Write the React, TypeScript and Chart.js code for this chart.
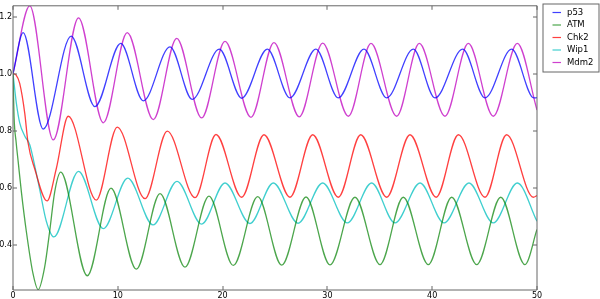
import React, { useEffect, useRef } from "react";
import { Chart, registerables } from "chart.js";

Chart.register(...registerables);

// ---- data ----
const xTicks = [0, 10, 20, 30, 40, 50];
const yTicks = [0.4, 0.6, 0.8, 1.0, 1.2];
const xMin = 0;
const xMax = 50;
const yMin = 0.242;
const yMax = 1.238;

const seriesNames = ["p53", "ATM", "Chk2", "Wip1", "Mdm2"];
const seriesColors = [
  "rgba(0,0,255,0.75)",
  "rgba(0,128,0,0.7)",
  "rgba(255,0,0,0.75)",
  "rgba(0,191,191,0.75)",
  "rgba(191,0,191,0.75)",
];

const p53X = [0, 0.97, 2.88, 5.55, 7.82, 10.28, 12.43, 14.98, 17.1, 19.69, 21.82, 24.27, 26.43, 28.9, 31.04, 33.49, 35.66, 38.2, 40.27, 42.91, 45.04, 47.58, 49.7, 50];
const p53Y = [1.0, 1.144, 0.806, 1.132, 0.885, 1.106, 0.905, 1.094, 0.91, 1.086, 0.914, 1.086, 0.915, 1.086, 0.915, 1.086, 0.915, 1.086, 0.915, 1.086, 0.915, 1.086, 0.915, 0.916];

const atmX = [0, 0.1, 0.3, 0.5, 0.8, 1.27, 1.91, 2.4, 3.02, 3.5, 3.98, 4.55, 7.09, 9.35, 11.77, 14.03, 16.41, 18.7, 21.02, 23.35, 25.64, 27.96, 30.25, 32.63, 35.02, 37.24, 39.63, 41.86, 44.25, 46.54, 48.85, 50];
const atmY = [1.0, 0.85, 0.76, 0.69, 0.586, 0.448, 0.299, 0.243, 0.322, 0.448, 0.586, 0.655, 0.292, 0.599, 0.315, 0.58, 0.322, 0.571, 0.328, 0.569, 0.329, 0.568, 0.33, 0.567, 0.331, 0.567, 0.331, 0.567, 0.331, 0.567, 0.331, 0.454];

const chk2X = [0, 0.3, 0.64, 1.12, 1.43, 2.07, 3.25, 4.13, 5.27, 7.95, 9.95, 12.6, 14.72, 17.37, 19.37, 21.82, 23.95, 26.43, 28.6, 31.04, 33.18, 35.66, 37.88, 40.38, 42.5, 45.04, 47.1, 49.65, 50];
const chk2Y = [1.0, 0.995, 0.966, 0.862, 0.759, 0.667, 0.554, 0.667, 0.851, 0.557, 0.813, 0.562, 0.799, 0.566, 0.787, 0.567, 0.786, 0.567, 0.786, 0.567, 0.786, 0.567, 0.786, 0.567, 0.786, 0.567, 0.786, 0.567, 0.573];

const wip1X = [0, 0.32, 0.64, 1.12, 1.59, 1.94, 2.56, 3.18, 3.9, 6.25, 8.62, 10.95, 13.36, 15.65, 18.0, 20.23, 22.61, 24.84, 27.2, 29.55, 31.9, 34.22, 36.45, 38.84, 41.13, 43.51, 45.83, 48.12, 50];
const wip1Y = [1.0, 0.897, 0.828, 0.782, 0.752, 0.7, 0.592, 0.483, 0.428, 0.658, 0.457, 0.634, 0.47, 0.623, 0.473, 0.617, 0.475, 0.617, 0.476, 0.617, 0.477, 0.617, 0.477, 0.617, 0.477, 0.617, 0.477, 0.617, 0.483];

const mdm2X = [0, 1.6, 3.84, 6.25, 8.62, 10.9, 13.39, 15.62, 18.0, 20.23, 22.71, 24.9, 27.32, 29.55, 32.0, 34.16, 36.61, 38.77, 41.22, 43.45, 45.83, 48.12, 50];
const mdm2Y = [1.0, 1.238, 0.768, 1.196, 0.828, 1.144, 0.839, 1.124, 0.845, 1.113, 0.847, 1.109, 0.849, 1.107, 0.851, 1.106, 0.851, 1.106, 0.851, 1.106, 0.851, 1.106, 0.873];

const seriesX = [p53X, atmX, chk2X, wip1X, mdm2X];
const seriesY = [p53Y, atmY, chk2Y, wip1Y, mdm2Y];

const FONT = "DejaVu Sans";

const framePlugin = {
  id: "mplFrame",
  afterDraw(chart: any) {
    const { ctx, chartArea } = chart;
    const { left, right, top, bottom } = chartArea;
    const xs = chart.scales.x;
    const ys = chart.scales.y;
    ctx.save();
    ctx.strokeStyle = "#666";
    ctx.lineWidth = 1;
    ctx.beginPath();
    ctx.rect(left, top, right - left, bottom - top);
    ctx.stroke();
    // inward ticks on all four sides
    const tl = 4;
    ctx.beginPath();
    xTicks.forEach((v) => {
      const px = Math.round(xs.getPixelForValue(v));
      ctx.moveTo(px, bottom);
      ctx.lineTo(px, bottom - tl);
      ctx.moveTo(px, top);
      ctx.lineTo(px, top + tl);
    });
    yTicks.forEach((v) => {
      const py = Math.round(ys.getPixelForValue(v));
      ctx.moveTo(left, py);
      ctx.lineTo(left + tl, py);
      ctx.moveTo(right, py);
      ctx.lineTo(right - tl, py);
    });
    ctx.stroke();

    // legend box
    const bx = 543, by = 4, bw = 56, bh = 68;
    ctx.fillStyle = "#fff";
    ctx.fillRect(bx, by, bw, bh);
    ctx.strokeStyle = "#666";
    ctx.strokeRect(bx, by, bw, bh);
    ctx.font = `8.5px "${FONT}"`;
    ctx.textBaseline = "middle";
    ctx.textAlign = "left";
    seriesNames.forEach((name, i) => {
      const y = 12.5 + i * 12.5;
      ctx.strokeStyle = seriesColors[i];
      ctx.lineWidth = 1.2;
      ctx.beginPath();
      ctx.moveTo(552.5, y);
      ctx.lineTo(561, y);
      ctx.stroke();
      ctx.fillStyle = "#000";
      ctx.fillText(name, 567, y);
    });
    ctx.restore();
  },
};

export default function App() {
  const canvasRef = useRef<HTMLCanvasElement | null>(null);

  useEffect(() => {
    const canvas = canvasRef.current;
    if (!canvas) return;
    const datasets = seriesNames.map((name, i) => ({
      label: name,
      data: seriesX[i].map((x, j) => ({ x, y: seriesY[i][j] })),
      borderColor: seriesColors[i],
      backgroundColor: seriesColors[i],
      borderWidth: 1.3,
      pointRadius: 0,
      fill: false,
      cubicInterpolationMode: "monotone" as const,
    }));
    const chart = new Chart(canvas, {
      type: "line",
      data: { datasets },
      options: {
        animation: false,
        responsive: false,
        devicePixelRatio: 1,
        layout: { padding: { top: 0, right: 63, left: 0, bottom: 0 } },
        plugins: { legend: { display: false }, tooltip: { enabled: false } },
        scales: {
          x: {
            type: "linear",
            min: xMin,
            max: xMax,
            grid: { display: false, drawTicks: false },
            border: { display: false },
            afterBuildTicks: (s: any) => {
              s.ticks = xTicks.map((v) => ({ value: v }));
            },
            afterFit: (s: any) => {
              s.height = 9;
            },
            ticks: {
              padding: 1,
              color: "#000",
              font: { family: FONT, size: 8 },
              maxRotation: 0,
              autoSkip: false,
              callback: (v: any) => String(v),
            },
          },
          y: {
            type: "linear",
            min: yMin,
            max: yMax,
            grid: { display: false, drawTicks: false },
            border: { display: false },
            afterBuildTicks: (s: any) => {
              s.ticks = yTicks.map((v) => ({ value: v }));
            },
            afterFit: (s: any) => {
              s.width = 13;
            },
            ticks: {
              padding: 1,
              color: "#000",
              font: { family: FONT, size: 8 },
              autoSkip: false,
              callback: (v: any) => Number(v).toFixed(1),
            },
          },
        },
      },
      plugins: [framePlugin],
    });
    return () => chart.destroy();
  }, []);

  return (
    <div style={{ position: "fixed", left: 0, top: 0, width: 600, height: 299, background: "#fff" }}>
      <canvas ref={canvasRef} width={600} height={299} style={{ display: "block" }} />
    </div>
  );
}
